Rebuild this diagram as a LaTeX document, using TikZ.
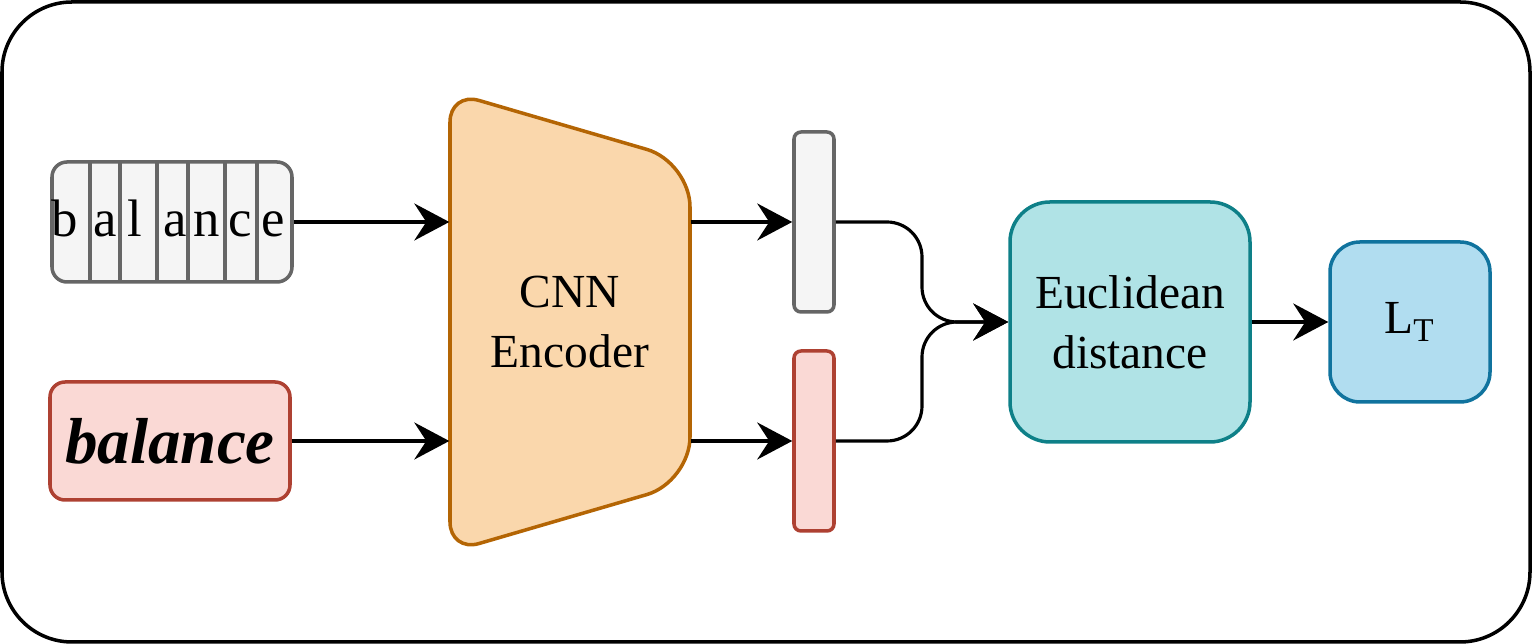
\documentclass[tikz,border=0pt]{standalone}
\usepackage{fontspec}
\setmainfont{Liberation Serif}
\usetikzlibrary{arrows.meta}
\definecolor{grayfill}{HTML}{F5F5F5}
\definecolor{graydraw}{HTML}{666666}
\definecolor{redfill}{HTML}{FAD9D5}
\definecolor{reddraw}{HTML}{AE4132}
\definecolor{encfill}{HTML}{FAD7AC}
\definecolor{encdraw}{HTML}{B46504}
\definecolor{eucfill}{HTML}{B0E3E6}
\definecolor{eucdraw}{HTML}{0E8088}
\definecolor{lossfill}{HTML}{B1DDF0}
\definecolor{lossdraw}{HTML}{10739E}
\tikzstyle{box}=[rectangle, draw, line width=1pt, rounded corners=0.15cm,
                 inner sep=0pt, align=center, font=\fontsize{13.5}{17}\selectfont]
\tikzstyle{arr}=[-{Stealth[length=3.5mm,width=3.7mm,inset=1.2mm]}, line width=0.9pt]

\begin{document}
\begin{tikzpicture}
      \useasboundingbox (0,0) rectangle (15.32,6.44);
      \draw[line width=1pt, rounded corners=0.7cm] (0.02,0.02) rectangle (15.30,6.42);
      % text input, one cell per letter
      \node[box, fill=grayfill, draw=graydraw, minimum width=2.4cm, minimum height=1.2cm]
	(word) at (1.72,4.22) {};
      \foreach \x in {0.90,1.20,1.57,1.88,2.25,2.57}
	\draw[graydraw, line width=1pt] (\x,3.62) -- (\x,4.82);
      \foreach \c/\x [count=\i] in {b/0.65,a/1.05,l/1.35,a/1.75,n/2.07,c/2.40,e/2.73}
	\node[anchor=base, inner sep=0pt, font=\fontsize{15}{15}\selectfont] (ch\i) at (\x,4.07) {\c};
      % handwritten input
      \node[box, fill=redfill, draw=reddraw, minimum width=2.4cm, minimum height=1.18cm,
	font=\fontsize{18.5}{19}\selectfont\bfseries\itshape] (hand) at (1.70,2.03) {balance};
      % encoder
      \draw[encdraw, fill=encfill, line width=1pt, rounded corners=0.3cm]
	(4.50,3.22) -- (4.50,5.52) [rounded corners=0.45cm] -- (6.90,4.82) -- (6.90,1.62)
	[rounded corners=0.3cm] -- (4.50,0.92) -- cycle;
      \node[inner sep=0pt, minimum width=2.4cm, minimum height=4.6cm, align=center,
	font=\fontsize{13.5}{17}\selectfont] (enc) at (5.70,3.22) {CNN\\Encoder};
	\draw[arr] (word.east) -- (enc.west |- word.east);
	\draw[arr] (hand.east) -- (enc.west |- hand.east);
      % embeddings
      \node[box, rounded corners=2pt, fill=grayfill, draw=graydraw, minimum width=0.4cm,
	minimum height=1.8cm] (vw) at (8.14,4.22) {};
      \node[box, rounded corners=2pt, fill=redfill, draw=reddraw, minimum width=0.4cm,
	minimum height=1.8cm] (vh) at (8.14,2.03) {};
	\draw[arr] (enc.east |- vw.west) -- (vw.west);
	\draw[arr] (enc.east |- vh.west) -- (vh.west);
      % distance and loss
      \node[box, rounded corners=0.4cm, fill=eucfill, draw=eucdraw, minimum width=2.4cm,
	minimum height=2.4cm] (euc) at (11.30,3.22) {Euclidean\\distance};
      \node[box, rounded corners=0.3cm, fill=lossfill, draw=lossdraw, minimum width=1.6cm,
	minimum height=1.6cm] (loss) at (14.10,3.22) {L\textsubscript{T}};
      \coordinate (join) at (9.22,3.22);
	\draw[arr, rounded corners=0.35cm] (vw.east) -| (join) -- (euc.west);
	\draw[arr, rounded corners=0.35cm] (vh.east) -| (join) -- (euc.west);
	\draw[arr] (euc) -- (loss);
      \end{tikzpicture}
\end{document}
